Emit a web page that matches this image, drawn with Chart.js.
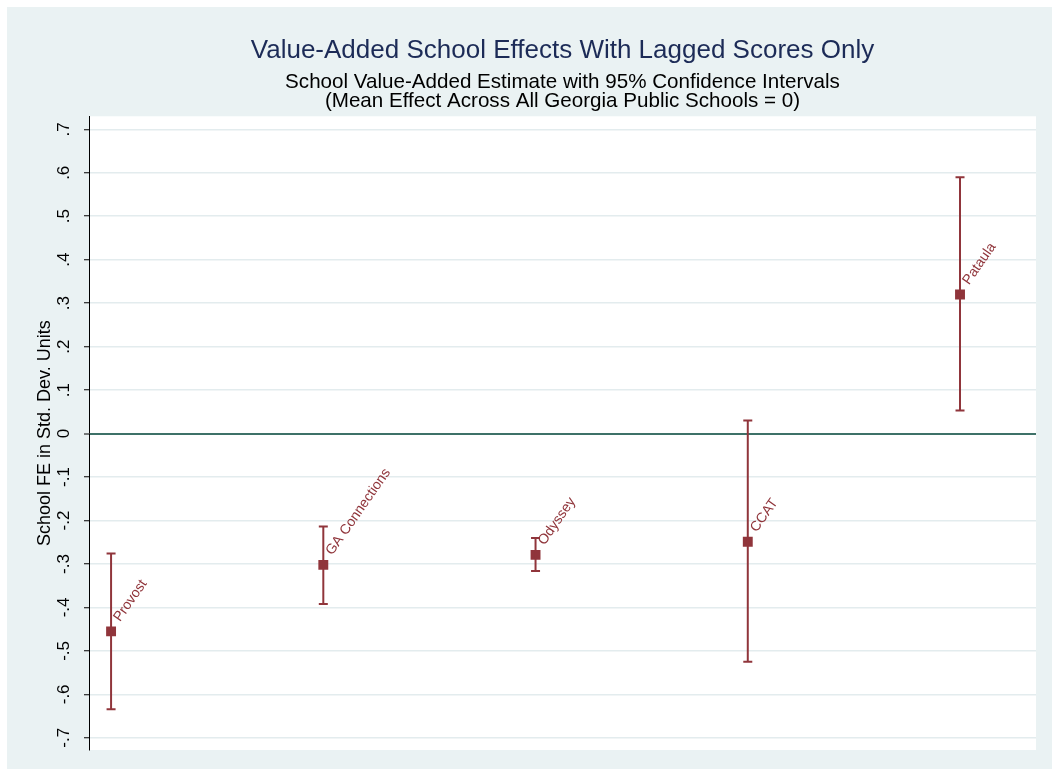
<!DOCTYPE html>
<html>
<head>
<meta charset="utf-8">
<script src="https://cdn.jsdelivr.net/npm/chart.js@4"></script>
<style>
  html, body { margin: 0; padding: 0; background: #fff; }
  #wrap { position: absolute; left: 7px; top: 7px; width: 1045px; height: 762px; background: #eaf2f3; }
</style>
</head>
<body>
<div id="wrap"><canvas id="myChart" width="1045" height="762"></canvas></div>
<script>
// 학교 이름 / 추정치 / 95% 신뢰구간
const schools = ["Provost", "GA Connections", "Odyssey", "CCAT", "Pataula"];
const estimates = [-0.455, -0.302, -0.279, -0.249, 0.320];
const lowerCI = [-0.634, -0.392, -0.316, -0.525, 0.053];
const upperCI = [-0.276, -0.214, -0.240, 0.030, 0.590];

// y축 눈금
const tickValues = [-0.7, -0.6, -0.5, -0.4, -0.3, -0.2, -0.1, 0, 0.1, 0.2, 0.3, 0.4, 0.5, 0.6, 0.7];
const tickLabels = ["-.7", "-.6", "-.5", "-.4", "-.3", "-.2", "-.1", "0", ".1", ".2", ".3", ".4", ".5", ".6", ".7"];

const red = "#90353b";
const font = "'Liberation Sans', Arial, sans-serif";

// 에러바 선 (학교마다 null 로 끊기)
let barData = [];
schools.forEach(function(s, i) {
	barData.push({ x: i + 1, y: lowerCI[i] });
	barData.push({ x: i + 1, y: upperCI[i] });
	barData.push({ x: i + 1, y: null });
});

let pointData = schools.map(function(s, i) {
	return { x: i + 1, y: estimates[i] };
});

// 플롯 영역 흰 배경
const plotBg = {
	id: "plotBg",
	beforeDraw: function(chart) {
		const a = chart.chartArea;
		chart.ctx.save();
		chart.ctx.fillStyle = "#fff";
		chart.ctx.fillRect(a.left, a.top, a.right - a.left, a.bottom - a.top);
		chart.ctx.restore();
	}
};

// 세로 눈금 라벨 + 학교 라벨 그리기
const labelPlugin = {
	id: "labelPlugin",
	afterDraw: function(chart) {
		const ctx = chart.ctx;
		const ys = chart.scales.y;
		const xs = chart.scales.x;

		ctx.save();
		ctx.fillStyle = "#000";
		ctx.font = "17px " + font;
		ctx.textAlign = "center";
		ctx.textBaseline = "middle";
		tickValues.forEach(function(v, i) {
			ctx.save();
			ctx.translate(57, ys.getPixelForValue(v));
			ctx.rotate(-Math.PI / 2);
			ctx.fillText(tickLabels[i], 0, 0);
			ctx.restore();
		});

		ctx.fillStyle = red;
		ctx.font = "14px " + font;
		ctx.textAlign = "left";
		ctx.textBaseline = "alphabetic";
		schools.forEach(function(s, i) {
			ctx.save();
			ctx.translate(xs.getPixelForValue(i + 1) + 9, ys.getPixelForValue(estimates[i]) - 9);
			ctx.rotate(-55 * Math.PI / 180);
			ctx.fillText(s, 0, 0);
			ctx.restore();
		});
		ctx.restore();
	}
};

var config = {
	type: "scatter",
	data: {
		datasets: [{
			type: "line",
			label: "95% CI",
			data: barData,
			borderColor: red,
			borderWidth: 2,
			pointStyle: "line",
			pointRadius: 4.5,
			pointBorderColor: red,
			pointBorderWidth: 2,
			pointHoverRadius: 4.5,
			spanGaps: false,
			tension: 0
		}, {
			label: "Estimate",
			data: pointData,
			pointStyle: "rect",
			pointRadius: 7,
			backgroundColor: red,
			borderColor: red,
			borderWidth: 0
		}]
	},
	options: {
		responsive: false,
		animation: false,
		devicePixelRatio: 1,
		layout: { padding: { top: 0, right: 16, bottom: 19, left: 0 } },
		plugins: {
			legend: { display: false },
			tooltip: { enabled: false },
			title: {
				display: true,
				fullSize: false,
				text: "Value-Added School Effects With Lagged Scores Only",
				color: "#1c2b57",
				font: { family: font, size: 26, weight: "normal", lineHeight: 1.2 },
				padding: { top: 28.4, bottom: 6.7 }
			},
			subtitle: {
				display: true,
				fullSize: false,
				text: ["School Value-Added Estimate with 95% Confidence Intervals", "(Mean Effect Across All Georgia Public Schools = 0)"],
				color: "#000",
				font: { family: font, size: 20.6, weight: "normal", lineHeight: 0.9 },
				padding: { top: 0, bottom: 5.9 }
			}
		},
		scales: {
			x: {
				type: "linear",
				display: false,
				min: 0.896,
				max: 5.358
			},
			y: {
				min: -0.728,
				max: 0.73,
				afterBuildTicks: function(scale) {
					scale.ticks = tickValues.map(function(v) { return { value: v }; });
				},
				afterFit: function(scale) {
					scale.width = 82;
				},
				ticks: { display: false },
				grid: {
					color: function(c) {
						return c.tick && c.tick.value === 0 ? "#3e7168" : "#e3ecee";
					},
					lineWidth: function(c) {
						return c.tick && c.tick.value === 0 ? 2 : 1.5;
					},
					drawTicks: true,
					tickLength: 5,
					tickColor: "#000",
					tickWidth: 1
				},
				border: { display: true, color: "#000", width: 1 },
				title: {
					display: true,
					text: "School FE in Std. Dev. Units",
					color: "#000",
					font: { family: font, size: 18, lineHeight: 1.2 },
					padding: { top: 27.2, bottom: 0 }
				}
			}
		}
	},
	plugins: [plotBg, labelPlugin]
};

var myChart = new Chart(document.getElementById("myChart"), config);
</script>
</body>
</html>
